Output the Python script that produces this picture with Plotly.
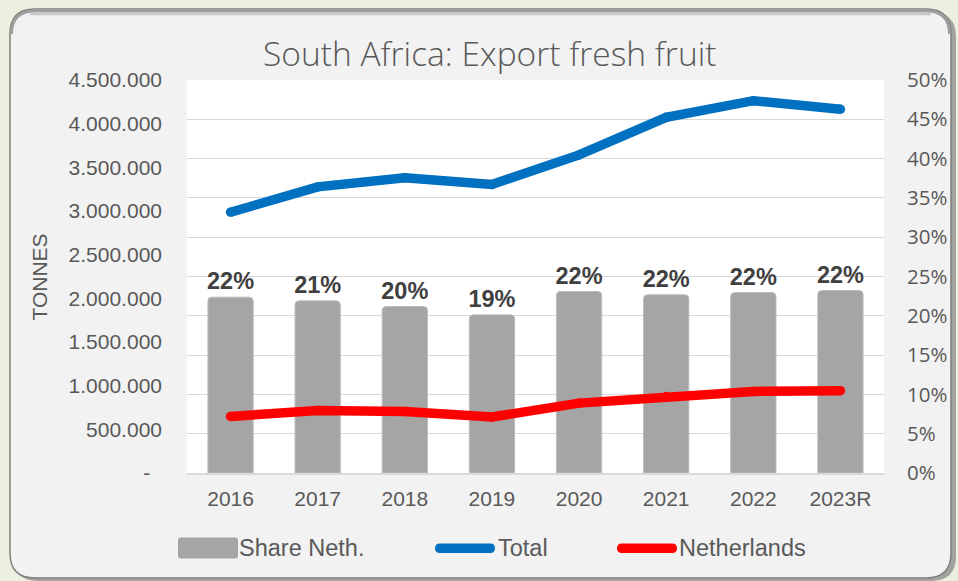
import plotly.graph_objects as go

# ---------------- data ----------------
years = ["2016", "2017", "2018", "2019", "2020", "2021", "2022", "2023R"]
share_neth = [0.2237, 0.2190, 0.2118, 0.2012, 0.2309, 0.2267, 0.2296, 0.2321]
share_labels = ["22%", "21%", "20%", "19%", "22%", "22%", "22%", "22%"]
total_tonnes = [2986000, 3276000, 3380000, 3304000, 3642000, 4073000, 4263000, 4165000]
neth_tonnes = [648000, 716000, 705000, 641000, 800000, 876000, 934000, 942000]
tonnes_ticks = list(range(0, 4500001, 500000))
pct_ticks = [i / 100 for i in range(0, 51, 5)]

title_text = "South Africa: Export fresh fruit"
y_title = "TONNES"
legend_names = ["Share Neth.", "Total", "Netherlands"]

# ---------------- geometry helpers ----------------
W, H = 958, 581
ML, MR, MT, MB = 187, 74, 80, 108
PW = W - ML - MR
PH = H - MT - MB


def px(x):
    return (x - ML) / PW


def py(y):
    return (H - MB - y) / PH


def rrect(x0, y0, x1, y1, r):
    return (
        f"M {px(x0 + r)},{py(y0)} L {px(x1 - r)},{py(y0)} "
        f"Q {px(x1)},{py(y0)} {px(x1)},{py(y0 + r)} L {px(x1)},{py(y1 - r)} "
        f"Q {px(x1)},{py(y1)} {px(x1 - r)},{py(y1)} L {px(x0 + r)},{py(y1)} "
        f"Q {px(x0)},{py(y1)} {px(x0)},{py(y1 - r)} L {px(x0)},{py(y0 + r)} "
        f"Q {px(x0)},{py(y0)} {px(x0 + r)},{py(y0)} Z"
    )


GRID = "#D9D9D9"
TXT = "#595959"
ARIAL = "Liberation Sans, Arial, sans-serif"
CALIBRI = "Open Sans, Noto Sans, sans-serif"

tonnes_text = []
for v in tonnes_ticks:
    tonnes_text.append("-\u00a0\u00a0" if v == 0 else f"{v:,}".replace(",", "."))

fig = go.Figure()

fig.add_trace(go.Bar(
    x=years, y=share_neth, yaxis="y", name=legend_names[0],
    marker=dict(color="#A5A5A5", line=dict(color="#BDBDBD", width=1), cornerradius=4),
    text=share_labels, textposition="outside", constraintext="none", cliponaxis=False,
    textfont=dict(family=ARIAL, size=23.5, color="#404040", weight="bold"),
))
fig.add_trace(go.Scatter(
    x=years, y=total_tonnes, yaxis="y2", name=legend_names[1], mode="lines+markers",
    line=dict(color="#0070C0", width=9.5), marker=dict(color="#0070C0", size=9.5),
    cliponaxis=False,
))
fig.add_trace(go.Scatter(
    x=years, y=neth_tonnes, yaxis="y2", name=legend_names[2], mode="lines+markers",
    line=dict(color="#FF0000", width=9.5), marker=dict(color="#FF0000", size=9.5),
    cliponaxis=False,
))

shapes = [
    # panel shadow
    dict(type="path", xref="paper", yref="paper", layer="below",
         path=rrect(13, 12, 956, 581, 25), fillcolor="#8A8A8A", opacity=0.75, line=dict(width=0)),
    # panel
    dict(type="path", xref="paper", yref="paper", layer="below",
         path=rrect(10, 9, 951, 578, 25), fillcolor="#F2F2F2", line=dict(color="#7F7F7F", width=1.5)),
    # top inner shading
    dict(type="path", xref="paper", yref="paper", layer="below",
         path=(f"M {px(11.5)},{py(34)} Q {px(11.5)},{py(11)} {px(35)},{py(11)} "
               f"L {px(926)},{py(11)} Q {px(949.5)},{py(11)} {px(949.5)},{py(34)}"),
         line=dict(color="#9E9E9E", width=3)),
    dict(type="path", xref="paper", yref="paper", layer="below",
         path=f"M {px(30)},{py(14)} L {px(931)},{py(14)}",
         line=dict(color="#C8C8C8", width=2.5)),
    # plot area
    dict(type="rect", xref="paper", yref="paper", layer="below",
         x0=0, x1=1, y0=0, y1=1, fillcolor="white", line=dict(width=0)),
    # legend swatches
    dict(type="path", xref="paper", yref="paper",
         path=rrect(178, 537.5, 238, 558.5, 3), fillcolor="#A5A5A5", line=dict(width=0)),
    dict(type="path", xref="paper", yref="paper",
         path=rrect(435, 543.5, 495, 553, 4.75), fillcolor="#0070C0", line=dict(width=0)),
    dict(type="path", xref="paper", yref="paper",
         path=rrect(617, 543.5, 677, 553, 4.75), fillcolor="#FF0000", line=dict(width=0)),
]

annotations = [
    dict(text=title_text, xref="paper", yref="paper", x=px(489.5), y=py(53),
         xanchor="center", yanchor="middle", showarrow=False,
         font=dict(family=CALIBRI, size=33.5, color=TXT, weight=300)),
    dict(text=y_title, xref="paper", yref="paper", x=px(38.5), y=py(277),
         xanchor="center", yanchor="middle", showarrow=False, textangle=-90,
         font=dict(family=ARIAL, size=21, color=TXT)),
]
for name, xpos in zip(legend_names, [237, 496, 677]):
    annotations.append(dict(text=name, xref="paper", yref="paper", x=px(xpos), y=py(548),
                            xanchor="left", yanchor="middle", showarrow=False,
                            font=dict(family=ARIAL, size=23.5, color=TXT)))

fig.update_layout(
    width=W, height=H,
    margin=dict(l=ML, r=MR, t=MT, b=MB, autoexpand=False),
    paper_bgcolor="#EBF1DE", plot_bgcolor="white",
    showlegend=False, bargap=0.48,
    font=dict(family=ARIAL, size=21, color=TXT),
    shapes=shapes, annotations=annotations,
    xaxis=dict(type="category", showgrid=False, ticks="", showline=True,
               linecolor=GRID, linewidth=1.5, ticklabelstandoff=6,
               tickfont=dict(family=ARIAL, size=21, color=TXT)),
    yaxis=dict(side="right", range=[0, 0.5], tickvals=pct_ticks, tickformat=".0%",
               showgrid=True, gridcolor=GRID, gridwidth=1.3, zeroline=False, ticks="",
               ticklabelstandoff=22, tickfont=dict(family=CALIBRI, size=20.5, color=TXT)),
    yaxis2=dict(side="left", overlaying="y", range=[0, 4500000], tickvals=tonnes_ticks,
                ticktext=tonnes_text, showgrid=False, zeroline=False, ticks="",
                ticklabelstandoff=24, tickfont=dict(family=ARIAL, size=21, color=TXT)),
)

fig.write_html(
    "out.html",
    config={"displayModeBar": False},
    post_script="document.body.style.margin='0';document.body.style.overflow='hidden';",
)
